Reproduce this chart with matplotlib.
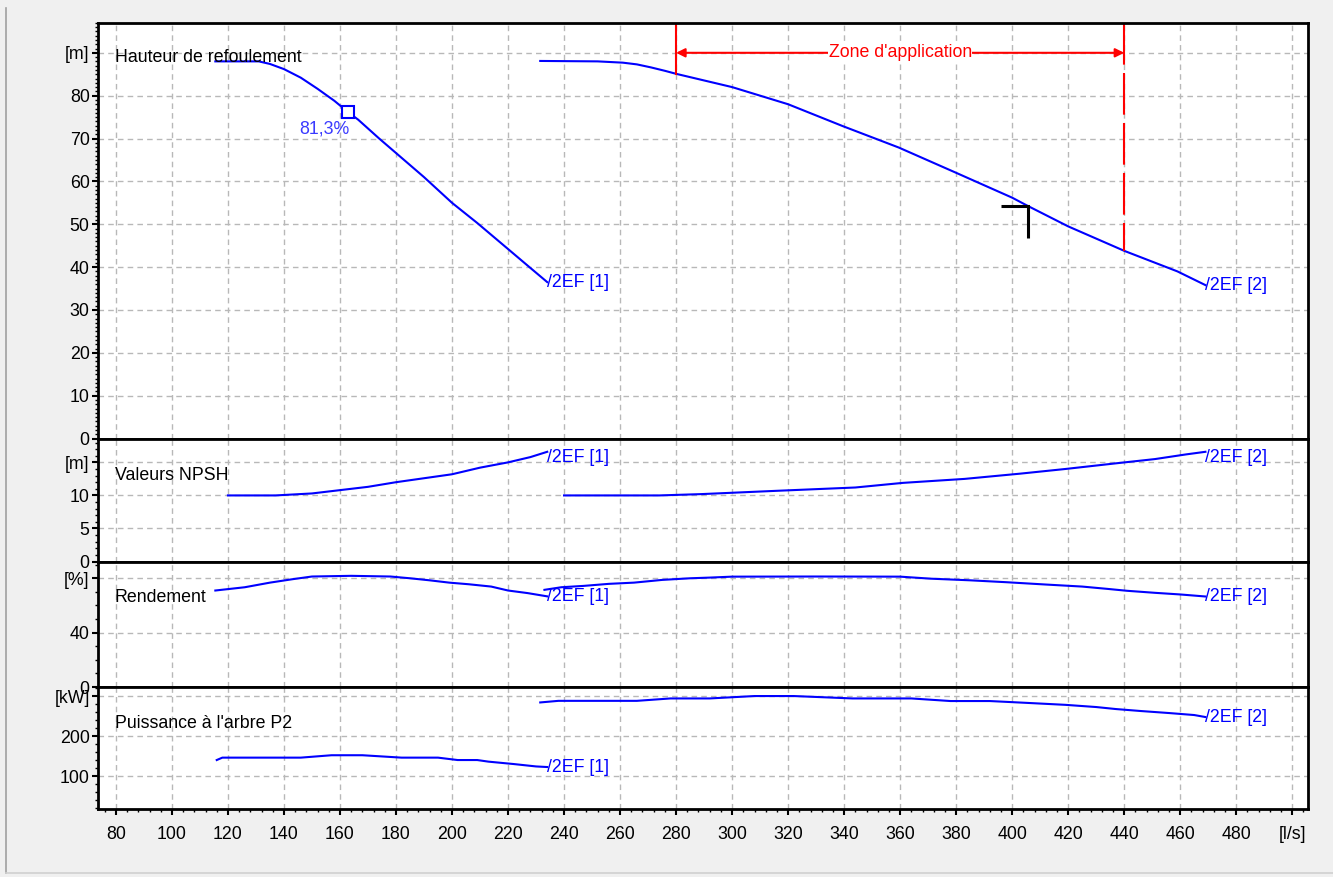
import numpy as np
import matplotlib
matplotlib.use('Agg')
import matplotlib.pyplot as plt
from matplotlib import font_manager
from matplotlib.ticker import MultipleLocator
from matplotlib.lines import Line2D

# flow rate [l/s] and curves for the two pump sizes
q_h1 = [115.5, 131, 135, 140, 146, 152, 158, 163, 166.5, 174, 190, 200, 209, 219.5, 228, 234]
h_1 = [88.0, 88.0, 87.4, 86.2, 84.2, 81.6, 78.8, 76.1, 74.4, 70.0, 61.0, 55.0, 50.3, 44.5, 39.8, 36.5]
q_h2 = [231.5, 252, 261, 266, 271, 276, 280, 300, 320, 339.5, 359.5, 380, 400, 405.5, 420, 440, 459, 469]
h_2 = [88.1, 88.0, 87.7, 87.3, 86.6, 85.8, 85.1, 82.0, 78.0, 72.9, 67.9, 62.0, 56.2, 54.3, 49.5, 43.8, 39.0, 35.8]

q_npsh1 = [120, 137, 150, 160, 170, 180, 190, 200, 210, 220, 228, 234]
npsh_1 = [10.0, 10.0, 10.3, 10.8, 11.3, 12.0, 12.6, 13.2, 14.2, 15.0, 15.8, 16.6]
q_npsh2 = [240, 274, 289, 316, 344, 361, 383, 403, 419, 438, 451, 462, 469]
npsh_2 = [10.0, 10.0, 10.2, 10.7, 11.2, 11.9, 12.5, 13.3, 14.0, 14.9, 15.5, 16.2, 16.6]

q_eta1 = [115.5, 126, 135, 143, 150, 164, 178, 185, 192, 199, 206, 214, 220, 227, 234]
eta_1 = [71.0, 73.4, 76.8, 79.3, 81.3, 81.8, 81.3, 80.0, 78.5, 76.8, 75.6, 73.9, 71.0, 69.1, 66.7]
q_eta2 = [233, 239, 247, 256, 265, 275, 285, 292, 300, 330, 360, 371, 385, 398, 412, 425, 434, 441, 451, 460, 469]
eta_2 = [71.5, 73.4, 74.4, 75.9, 76.8, 78.8, 80.0, 80.5, 81.2, 81.3, 81.2, 79.7, 78.5, 77.1, 75.4, 73.9, 72.2, 70.8, 69.3, 68.1, 66.6]

q_p1 = [116, 118, 132, 146, 157, 168, 182, 195, 202, 209, 213, 222, 230, 234]
p_1 = [140, 146, 146, 146, 152, 152, 146, 146, 140, 140, 136, 130, 124, 122.5]
q_p2 = [231.5, 238, 252, 266, 278, 292, 308, 322, 343, 364, 378, 392, 405, 419, 430, 437, 446, 456, 465, 469]
p_2 = [284, 288, 288, 288, 294, 294, 300, 300, 294, 294, 287.5, 287.5, 283, 278, 272.5, 267.5, 262.5, 257.5, 252.5, 247.5]

size_labels = ['/2EF [1]', '/2EF [2]']
bep_q, bep_h, bep_label = 163, 76.1, '81,3%'
duty_q, duty_h = 405.5, 54.2
zone_q = [280, 440]
zone_label = "Zone d'application"

x_ticks = list(range(80, 501, 20))
x_labels = [str(v) for v in range(80, 481, 20)] + ['[l/s]']

# condensed font if present
names = {f.name for f in font_manager.fontManager.ttflist}
if 'Liberation Sans Narrow' in names:
    font, fs = 'Liberation Sans Narrow', 14.5
else:
    font, fs = 'Liberation Sans', 12.8
plt.rcParams['font.family'] = [font, 'DejaVu Sans']

BLUE = '#0000ff'
RED = '#ff0000'
GRID = '#b8b8b8'

fig = plt.figure(figsize=(13.33, 8.77), dpi=100, facecolor='#f0f0f0')
gs = fig.add_gridspec(4, 1, height_ratios=[415.8, 123, 125.5, 122], hspace=0,
                      left=0.0735, right=0.981, top=0.974, bottom=0.0775)
axes = [fig.add_subplot(gs[i]) for i in range(4)]

panels = [
    ((0, 97), list(range(0, 91, 10)), [str(v) for v in range(0, 81, 10)] + ['[m]'], 1, 'Hauteur de refoulement', 88.8),
    ((0, 18.6), [0, 5, 10, 15], ['0', '5', '10', '[m]'], 1, 'Valeurs NPSH', 13.0),
    ((0, 92.3), [0, 40, 80], ['0', '40', '[%]'], 10, 'Rendement', 65.7),
    ((17.5, 322.5), [100, 200, 300], ['100', '200', '[kW]'], 20, "Puissance à l'arbre P2", 232.5),
]

for ax, (ylim, yt, ylab, yminor, title, title_y) in zip(axes, panels):
    ax.set_facecolor('white')
    ax.set_xlim(73.6, 505.5)
    ax.set_ylim(*ylim)
    ax.set_yticks(yt)
    ax.set_yticklabels(ylab)
    ax.yaxis.set_minor_locator(MultipleLocator(yminor))
    ax.set_xticks(x_ticks)
    ax.xaxis.set_minor_locator(MultipleLocator(4))
    ax.grid(True, which='major', color=GRID, linestyle=(0, (4, 3)), linewidth=1.0)
    ax.set_axisbelow(True)
    for s in ax.spines.values():
        s.set_linewidth(2.0)
        s.set_color('black')
    ax.tick_params(axis='y', which='major', direction='out', length=4, width=1.5, pad=2, labelsize=fs)
    ax.tick_params(axis='y', which='minor', direction='out', length=2.5, width=1.0)
    ax.tick_params(axis='x', which='major', direction='out', length=4, width=1.5, pad=8, labelsize=fs)
    ax.tick_params(axis='x', which='minor', direction='out', length=2.5, width=1.0)
    ax.text(79.6, title_y, title, fontsize=fs, color='black', ha='left', va='center')

for ax in axes[:-1]:
    ax.tick_params(axis='x', which='both', length=0, labelbottom=False)
axes[-1].set_xticklabels(x_labels)

label_kw = dict(color=BLUE, fontsize=fs, ha='left', va='center')

# head curves
ax = axes[0]
ax.plot(q_h1, h_1, color=BLUE, lw=1.5)
ax.plot(q_h2, h_2, color=BLUE, lw=1.5)
ax.text(q_h1[-1], h_1[-1], size_labels[0], **label_kw)
ax.text(q_h2[-1], h_2[-1], size_labels[1], **label_kw)
ax.plot([bep_q], [bep_h], marker='s', ms=8.5, mfc='white', mec=BLUE, mew=1.5, zorder=5)
ax.text(bep_q + 0.3, bep_h - 3.8, bep_label, color='#3a3aff', fontsize=fs, ha='right', va='center')

# application zone
h_lo = np.interp(zone_q[0], q_h2, h_2)
h_hi = np.interp(zone_q[1], q_h2, h_2)
ax.plot([zone_q[0], zone_q[0]], [97, h_lo], color=RED, lw=1.5)
ax.plot([zone_q[1], zone_q[1]], [97, h_hi], color=RED, lw=1.5, linestyle=(0, (20, 4)))
ax.annotate('', xy=(zone_q[0], 90), xytext=(zone_q[1], 90),
            arrowprops=dict(arrowstyle='<|-|>', color=RED, lw=1.5, mutation_scale=13,
                            shrinkA=0, shrinkB=0))
ax.text(sum(zone_q) / 2, 90, zone_label, color=RED, fontsize=fs, ha='center', va='center',
        bbox=dict(fc='white', ec='none', pad=0.5))

# duty point
ax.plot([duty_q - 9.5, duty_q, duty_q], [duty_h, duty_h, duty_h - 7.4], color='black', lw=2.2,
        solid_joinstyle='miter', solid_capstyle='butt', zorder=6)

# NPSH
ax = axes[1]
ax.plot(q_npsh1, npsh_1, color=BLUE, lw=1.5)
ax.plot(q_npsh2, npsh_2, color=BLUE, lw=1.5)
ax.text(q_npsh1[-1], npsh_1[-1] - 0.8, size_labels[0], **label_kw)
ax.text(q_npsh2[-1], npsh_2[-1] - 0.8, size_labels[1], **label_kw)

# efficiency
ax = axes[2]
ax.plot(q_eta1, eta_1, color=BLUE, lw=1.5)
ax.plot(q_eta2, eta_2, color=BLUE, lw=1.5)
ax.text(q_eta1[-1], eta_1[-1], size_labels[0], **label_kw)
ax.text(q_eta2[-1], eta_2[-1], size_labels[1], **label_kw)

# shaft power
ax = axes[3]
ax.plot(q_p1, p_1, color=BLUE, lw=1.5)
ax.plot(q_p2, p_2, color=BLUE, lw=1.5)
ax.text(q_p1[-1], p_1[-1], size_labels[0], **label_kw)
ax.text(q_p2[-1], p_2[-1], size_labels[1], **label_kw)

# window frame lines
fig.add_artist(Line2D([6 / 1333, 6 / 1333], [4 / 877, 1 - 8 / 877], color='#a0a0a0', lw=1.2))
fig.add_artist(Line2D([6 / 1333, 1], [4 / 877, 4 / 877], color='#d0d0d0', lw=1.2))

fig.savefig('out.png', dpi=100, facecolor=fig.get_facecolor())
